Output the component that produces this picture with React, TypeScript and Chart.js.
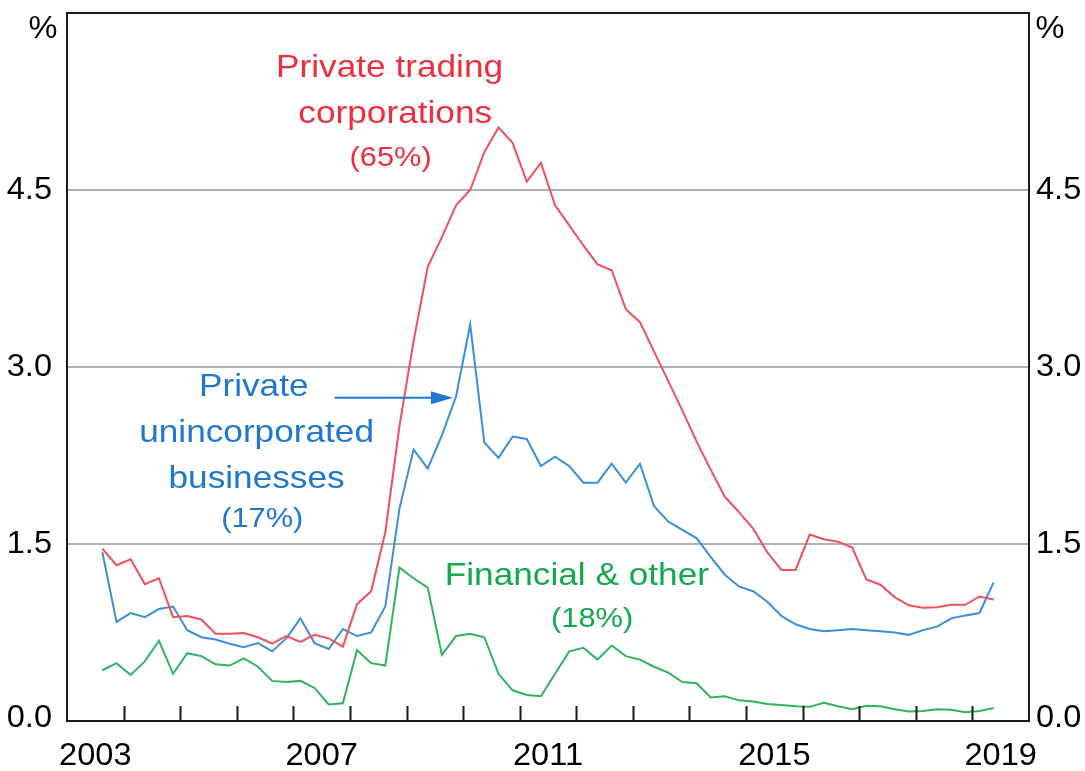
import React, { useEffect, useRef } from 'react';
import { Chart, registerables } from 'chart.js';

Chart.register(...registerables);

// Quarterly observations, first one is 2003 Q3 (plotted mid-quarter)
const START_YEAR = 2003;
const START_QUARTER = 3;

const privateTrading: number[] = [
  1.46, 1.32, 1.37, 1.16, 1.21, 0.88, 0.89, 0.86, 0.74, 0.74,
  0.745, 0.71, 0.655, 0.72, 0.67, 0.73, 0.70, 0.63, 0.99, 1.10,
  1.60, 2.50, 3.22, 3.85, 4.10, 4.37, 4.50, 4.82, 5.03, 4.90,
  4.57, 4.73, 4.37, 4.20, 4.03, 3.87, 3.82, 3.49, 3.38, 3.13,
  2.88, 2.63, 2.37, 2.13, 1.90, 1.77, 1.63, 1.43, 1.28, 1.28,
  1.58, 1.54, 1.52, 1.47, 1.20, 1.155, 1.05, 0.98, 0.96, 0.965,
  0.985, 0.985, 1.055, 1.03,
];

const unincorporated: number[] = [
  1.43, 0.84, 0.915, 0.88, 0.95, 0.97, 0.77, 0.71, 0.69, 0.655,
  0.625, 0.66, 0.59, 0.70, 0.87, 0.66, 0.61, 0.78, 0.72, 0.75,
  0.97, 1.80, 2.30, 2.14, 2.42, 2.75, 3.36, 2.36, 2.23, 2.41,
  2.39, 2.16, 2.24, 2.16, 2.02, 2.02, 2.18, 2.02, 2.18, 1.82,
  1.69, 1.62, 1.55, 1.39, 1.24, 1.14, 1.10, 1.01, 0.89, 0.82,
  0.78, 0.76, 0.77, 0.78, 0.77, 0.76, 0.75, 0.73, 0.77, 0.80,
  0.87, 0.895, 0.915, 1.175,
];

const financial: number[] = [
  0.43, 0.49, 0.39, 0.505, 0.68, 0.40, 0.575, 0.55, 0.48, 0.47,
  0.53, 0.46, 0.34, 0.33, 0.34, 0.28, 0.14, 0.15, 0.60, 0.49,
  0.47, 1.30, 1.21, 1.13, 0.56, 0.72, 0.74, 0.71, 0.40, 0.26,
  0.22, 0.21, 0.40, 0.59, 0.62, 0.52, 0.64, 0.55, 0.52, 0.46,
  0.41, 0.33, 0.32, 0.20, 0.21, 0.175, 0.165, 0.145, 0.135, 0.125,
  0.12, 0.155, 0.125, 0.10, 0.13, 0.125, 0.10, 0.08, 0.085, 0.10,
  0.095, 0.075, 0.085, 0.11,
];

const quarterX: number[] = privateTrading.map(
  (_, i) => START_YEAR + (START_QUARTER - 1 + i) / 4 + 0.125
);

const yearLabels: string[] = ['2003', '2007', '2011', '2015', '2019'];
const yTickValues: number[] = [0, 1.5, 3, 4.5];
const yTickLabels: string[] = ['0.0', '1.5', '3.0', '4.5'];
const X_MIN = 2003;
const X_MAX = 2020;
const Y_MAX = 6;

const RED_LINE = '#f0505c';
const RED_TEXT = '#ef2d3f';
const BLUE_LINE = '#3a8edb';
const BLUE_TEXT = '#1f77d0';
const GREEN_LINE = '#2fb45e';
const GREEN_TEXT = '#12a84c';

const FONT = '"Liberation Sans", Arial, Helvetica, sans-serif';

function stretchText(
  ctx: CanvasRenderingContext2D,
  text: string,
  x: number,
  y: number,
  size: number,
  color: string,
  align: CanvasTextAlign = 'center',
  sx = 1.1
) {
  ctx.save();
  ctx.translate(x, y);
  ctx.scale(sx, 1);
  ctx.font = `${size}px ${FONT}`;
  ctx.fillStyle = color;
  ctx.textAlign = align;
  ctx.textBaseline = 'middle';
  ctx.fillText(text, 0, 0);
  ctx.restore();
}

const overlayPlugin = {
  id: 'rbaOverlay',
  afterDatasetsDraw(chart: any) {
    const { ctx, chartArea, scales } = chart;
    const xs = scales.x;
    const ys = scales.y;
    const { left, right, top, bottom } = chartArea;

    ctx.save();
    // frame
    ctx.strokeStyle = '#1a1a1a';
    ctx.lineWidth = 2;
    ctx.strokeRect(left, top, right - left, bottom - top);

    // inward year tick marks
    ctx.beginPath();
    for (let yr = X_MIN + 1; yr < X_MAX; yr++) {
      const px = Math.round(xs.getPixelForValue(yr)) + 0.5;
      ctx.moveTo(px, bottom);
      ctx.lineTo(px, bottom - 15);
    }
    ctx.stroke();

    // x labels, centered in the year
    yearLabels.forEach((lab) => {
      const yr = Number(lab);
      const px = xs.getPixelForValue(yr + 0.5);
      stretchText(ctx, lab, px, bottom + 35, 31, '#000', 'center', 1.05);
    });

    // y labels both sides
    yTickValues.forEach((v, i) => {
      const py = Math.min(ys.getPixelForValue(v), bottom - 3);
      stretchText(ctx, yTickLabels[i], left - 15, py, 31, '#000', 'right', 1.05);
      stretchText(ctx, yTickLabels[i], right + 7, py, 31, '#000', 'left', 1.05);
    });
    stretchText(ctx, '%', left - 24, top + 16, 31, '#000', 'center', 1.05);
    stretchText(ctx, '%', right + 21, top + 16, 31, '#000', 'center', 1.05);

    // annotations (positioned in data coordinates)
    const at = (yr: number, v: number) => [xs.getPixelForValue(yr), ys.getPixelForValue(v)];
    let p = at(2008.7, 5.53);
    stretchText(ctx, 'Private trading', p[0], p[1], 32, RED_TEXT);
    p = at(2008.8, 5.14);
    stretchText(ctx, 'corporations', p[0], p[1], 32, RED_TEXT);
    p = at(2008.72, 4.77);
    stretchText(ctx, '(65%)', p[0], p[1], 28, RED_TEXT);

    p = at(2006.3, 2.83);
    stretchText(ctx, 'Private', p[0], p[1], 32, BLUE_TEXT);
    p = at(2006.35, 2.44);
    stretchText(ctx, 'unincorporated', p[0], p[1], 32, BLUE_TEXT);
    p = at(2006.35, 2.05);
    stretchText(ctx, 'businesses', p[0], p[1], 32, BLUE_TEXT);
    p = at(2006.45, 1.71);
    stretchText(ctx, '(17%)', p[0], p[1], 28, BLUE_TEXT);

    p = at(2012.01, 1.23);
    stretchText(ctx, 'Financial & other', p[0], p[1], 32, GREEN_TEXT);
    p = at(2012.28, 0.86);
    stretchText(ctx, '(18%)', p[0], p[1], 28, GREEN_TEXT);

    // arrow to the unincorporated line
    const a0 = at(2007.73, 2.74);
    const a1 = at(2009.82, 2.74);
    ctx.strokeStyle = BLUE_TEXT;
    ctx.fillStyle = BLUE_TEXT;
    ctx.lineWidth = 2;
    ctx.beginPath();
    ctx.moveTo(a0[0], a0[1]);
    ctx.lineTo(a1[0] - 16, a1[1]);
    ctx.stroke();
    ctx.beginPath();
    ctx.moveTo(a1[0], a1[1]);
    ctx.lineTo(a1[0] - 22, a1[1] - 6.5);
    ctx.lineTo(a1[0] - 22, a1[1] + 6.5);
    ctx.closePath();
    ctx.fill();
    ctx.restore();
  },
};

export default function App() {
  const canvasRef = useRef<HTMLCanvasElement | null>(null);

  useEffect(() => {
    if (!canvasRef.current) return;
    const mk = (vals: number[]) => vals.map((v, i) => ({ x: quarterX[i], y: v }));
    const chart = new Chart(canvasRef.current, {
      type: 'line',
      data: {
        datasets: [
          { label: 'Private trading corporations (65%)', data: mk(privateTrading), borderColor: RED_LINE, borderWidth: 2, pointRadius: 0, tension: 0 },
          { label: 'Private unincorporated businesses (17%)', data: mk(unincorporated), borderColor: BLUE_LINE, borderWidth: 2, pointRadius: 0, tension: 0 },
          { label: 'Financial & other (18%)', data: mk(financial), borderColor: GREEN_LINE, borderWidth: 2, pointRadius: 0, tension: 0 },
        ],
      },
      options: {
        responsive: false,
        animation: false,
        events: [],
        layout: { padding: { left: 67, right: 56, top: 13, bottom: 50 } },
        plugins: { legend: { display: false }, tooltip: { enabled: false }, title: { display: false } },
        scales: {
          x: {
            type: 'linear',
            min: X_MIN,
            max: X_MAX,
            ticks: { display: false },
            grid: { display: false, drawTicks: false },
            border: { display: false },
          },
          y: {
            type: 'linear',
            min: 0,
            max: Y_MAX,
            ticks: { display: false, stepSize: 1.5 },
            grid: {
              drawTicks: false,
              lineWidth: 2,
              color: (c: any) => (c.tick && c.tick.value > 0 && c.tick.value < Y_MAX ? '#b2b2b2' : 'rgba(0,0,0,0)'),
            },
            border: { display: false },
          },
        },
      },
      plugins: [overlayPlugin],
    });
    return () => chart.destroy();
  }, []);

  return (
    <div style={{ position: 'absolute', left: 0, top: 0, width: 1085, height: 771, background: '#fff' }}>
      <canvas ref={canvasRef} width={1085} height={771} style={{ display: 'block' }} />
    </div>
  );
}
